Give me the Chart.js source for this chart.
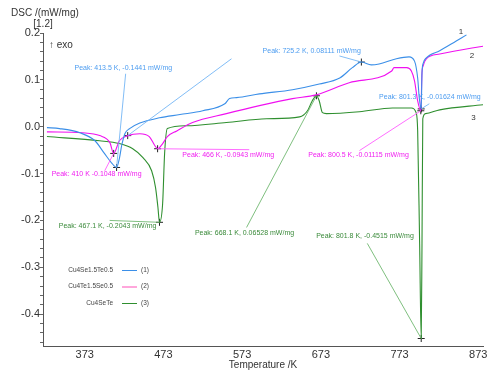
<!DOCTYPE html>
<html>
<head>
<meta charset="utf-8">
<script src="https://cdn.jsdelivr.net/npm/chart.js@4.4.0/dist/chart.umd.min.js"></script>
<style>html,body{margin:0;padding:0;background:#fff}</style>
</head>
<body>
<canvas id="dsc" width="488" height="371"></canvas>
<script>
// DSC curves, temperature in K, signal in mW/mg (as plotted, offset [1.2])
const tempTicks = [373, 473, 573, 673, 773, 873];
const seriesNames = ['Cu4Se1.5Te0.5', 'Cu4Te1.5Se0.5', 'Cu4SeTe'];

const tempBlue = [325, 341, 367, 386, 398, 407, 413.5, 417, 420, 424, 430, 443, 468, 494, 523, 551, 557, 566, 595, 637,
  671, 697, 713, 724.5, 737, 747, 769, 785, 792, 796, 798, 800.5, 801.5, 803, 807, 824, 845, 858];
const dscBlue = [-0.002, -0.004, -0.013, -0.030, -0.057, -0.077, -0.087, -0.068, -0.040, -0.015, -0.004, 0.008, 0.019, 0.026, 0.034, 0.049, 0.060, 0.062, 0.070, 0.079,
  0.091, 0.104, 0.126, 0.138, 0.132, 0.134, 0.145, 0.149, 0.140, 0.104, 0.062, 0.038, 0.115, 0.135, 0.147, 0.162, 0.183, 0.196];

const tempPink = [325, 370, 392, 405, 409.8, 417, 427.6, 443, 455, 462, 465.6, 472, 478, 490, 510, 553, 595, 637, 667, 709,
  763, 766, 782, 788, 792, 796, 800, 801.5, 803, 807, 824, 865, 880];
const dscPink = [-0.011, -0.013, -0.019, -0.034, -0.057, -0.030, -0.019, -0.015, -0.021, -0.040, -0.047, -0.036, -0.021, -0.009, 0.009, 0.028, 0.045, 0.060, 0.068, 0.094,
  0.119, 0.126, 0.126, 0.119, 0.098, 0.055, 0.034, 0.115, 0.130, 0.145, 0.155, 0.168, 0.172];

const tempGreen = [325, 392, 417, 434, 447, 458, 463, 466, 468, 472, 474.5, 478, 502, 553, 604, 646, 656, 662, 667.4, 671,
  675, 680, 722, 764, 788, 794, 796, 798.5, 800.5, 801.5, 802.5, 806, 824, 880];
const dscGreen = [-0.021, -0.030, -0.036, -0.047, -0.066, -0.094, -0.130, -0.172, -0.204, -0.164, -0.057, -0.004, 0.002, 0.009, 0.017, 0.021, 0.034, 0.055, 0.066, 0.055,
  0.030, 0.028, 0.032, 0.040, 0.040, 0.030, -0.009, -0.250, -0.452, -0.250, 0.017, 0.028, 0.036, 0.047];

// peak markers + annotations
const peakT   = [413.5, 409.8, 465.6, 468, 667.4, 724.5, 800.5, 800, 800.5, 427.6];
const peakDsc = [-0.087, -0.057, -0.047, -0.204, 0.066, 0.138, 0.038, 0.034, -0.452, -0.019];
const peakSeries = [0, 1, 1, 2, 2, 0, 0, 1, 2, 0];
const peakText = ['Peak: 413.5 K, -0.1441 mW/mg', 'Peak: 410 K -0.1048 mW/mg', 'Peak: 466 K, -0.0943 mW/mg',
  'Peak: 467.1 K, -0.2043 mW/mg', 'Peak: 668.1 K, 0.06528 mW/mg', 'Peak: 725.2 K, 0.08111 mW/mg',
  'Peak: 801.3 K, -0.01624 mW/mg', 'Peak: 800.5 K, -0.01115 mW/mg', 'Peak: 801.8 K, -0.4515 mW/mg', ''];
const labelT   = [360, 331, 497, 340, 513, 599, 747, 657, 667, null];
const labelDsc = [0.126, -0.102, -0.060, -0.213, -0.228, 0.162, 0.064, -0.060, -0.234, null];
const leaderT   = [425, 398.4, 582, 404.7, 578.6, 696.6, 810.8, 722, 732, 559.5];
const leaderDsc = [0.113, -0.094, -0.049, -0.200, -0.215, 0.151, 0.049, -0.051, -0.249, 0.145];

const curveNumT = [851, 865, 867];
const curveNumDsc = [0.202, 0.151, 0.019];

const FONT = "'Liberation Sans', Arial, sans-serif";
const lineColors = ['#3b8fe8', '#f010f0', '#2f8f2f'];
const leaderColors = ['#74b6f5', '#ff5cff', '#70b870'];
const labelColors = ['#4c9cf0', '#f020f0', '#3a8a3a'];
const legendColors = ['#3b8fe8', '#ff4fb8', '#2f8f2f'];

Chart.defaults.font.family = FONT;
Chart.defaults.color = '#333';

const toXY = (xs, ys) => xs.map((x, i) => ({x, y: ys[i]}));

function leaderPoints(s) {
  const pts = [];
  peakT.forEach((t, i) => {
    if (peakSeries[i] !== s) return;
    pts.push({x: leaderT[i], y: leaderDsc[i]}, {x: t, y: peakDsc[i]}, {x: t, y: null});
  });
  return pts;
}

const curve = (data, color) => ({data, borderColor: color, borderWidth: 1.1, pointRadius: 0,
  cubicInterpolationMode: 'monotone', fill: false});
const leader = (data, color) => ({data, borderColor: color, borderWidth: 0.9, pointRadius: 0,
  tension: 0, spanGaps: false, fill: false});

const annotate = {
  id: 'annotate',
  afterDatasetsDraw(chart) {
    const {ctx, chartArea, scales: {x, y}} = chart;
    ctx.save();
    ctx.textBaseline = 'middle';
    ctx.fillStyle = '#333';
    ctx.font = `10px ${FONT}`;
    ctx.textAlign = 'left';
    ctx.fillText('DSC /(mW/mg)', 11, 13);
    ctx.textAlign = 'center';
    ctx.fillText('[1.2]', chartArea.left, 24);
    ctx.textAlign = 'left';
    ctx.fillText('\u2191 exo', chartArea.left + 6, chartArea.top + 12);

    ctx.font = `7px ${FONT}`;
    peakText.forEach((t, i) => {
      if (!t) return;
      ctx.fillStyle = labelColors[peakSeries[i]];
      ctx.fillText(t, x.getPixelForValue(labelT[i]), y.getPixelForValue(labelDsc[i]));
    });

    ctx.fillStyle = '#333';
    ctx.font = `8px ${FONT}`;
    ctx.textAlign = 'center';
    curveNumT.forEach((t, i) => ctx.fillText(String(i + 1), x.getPixelForValue(t), y.getPixelForValue(curveNumDsc[i])));

    // legend box inside plot
    ctx.font = `6.5px ${FONT}`;
    seriesNames.forEach((name, i) => {
      const ly = chartArea.top + 237 + i * 16.5;
      ctx.fillStyle = '#444';
      ctx.textAlign = 'right';
      ctx.fillText(name, chartArea.left + 70, ly);
      ctx.textAlign = 'left';
      ctx.fillText(`(${i + 1})`, chartArea.left + 98, ly);
      ctx.strokeStyle = legendColors[i];
      ctx.lineWidth = 1;
      ctx.beginPath();
      ctx.moveTo(chartArea.left + 79, ly + 0.5);
      ctx.lineTo(chartArea.left + 94, ly + 0.5);
      ctx.stroke();
    });
    ctx.restore();
  }
};

new Chart(document.getElementById('dsc'), {
  type: 'line',
  data: {
    datasets: [
      leader(leaderPoints(0), leaderColors[0]),
      leader(leaderPoints(1), leaderColors[1]),
      leader(leaderPoints(2), leaderColors[2]),
      curve(toXY(tempBlue, dscBlue), lineColors[0]),
      curve(toXY(tempPink, dscPink), lineColors[1]),
      curve(toXY(tempGreen, dscGreen), lineColors[2]),
      {data: toXY(peakT, peakDsc), showLine: false, pointStyle: 'cross', pointRadius: 3.5,
       pointBorderColor: '#222', pointBorderWidth: 1, borderColor: '#222'}
    ]
  },
  options: {
    responsive: false,
    animation: false,
    layout: {padding: {top: 33, right: 2, left: 0, bottom: 0}},
    plugins: {legend: {display: false}, tooltip: {enabled: false}},
    scales: {
      x: {
        type: 'linear', min: 320, max: 879,
        afterBuildTicks: s => { s.ticks = tempTicks.map(v => ({value: v})); },
        afterFit: s => { s.height = 25; s.paddingLeft = 0; s.paddingRight = 0; },
        grid: {drawOnChartArea: false, drawTicks: false},
        border: {color: '#555'},
        ticks: {autoSkip: false, maxRotation: 0, padding: 2, font: {size: 11}, color: '#333'},
        title: {display: true, text: 'Temperature /K', font: {size: 10}, color: '#333', padding: 0}
      },
      y: {
        type: 'linear', min: -0.468, max: 0.2,
        afterBuildTicks: s => {
          const t = [];
          for (let i = -23; i <= 10; i++) t.push({value: i * 0.02});
          s.ticks = t;
        },
        afterFit: s => { s.width = 43; },
        grid: {drawOnChartArea: false, drawTicks: true, tickLength: 3, tickColor: '#666'},
        border: {color: '#555'},
        ticks: {
          autoSkip: false, padding: 0, font: {size: 11}, color: '#333',
          callback: v => {
            const k = Math.round(v * 10);
            return Math.abs(v * 10 - k) < 1e-6 ? (k / 10).toFixed(1) : '';
          }
        }
      }
    }
  },
  plugins: [annotate]
});
</script>
</body>
</html>
